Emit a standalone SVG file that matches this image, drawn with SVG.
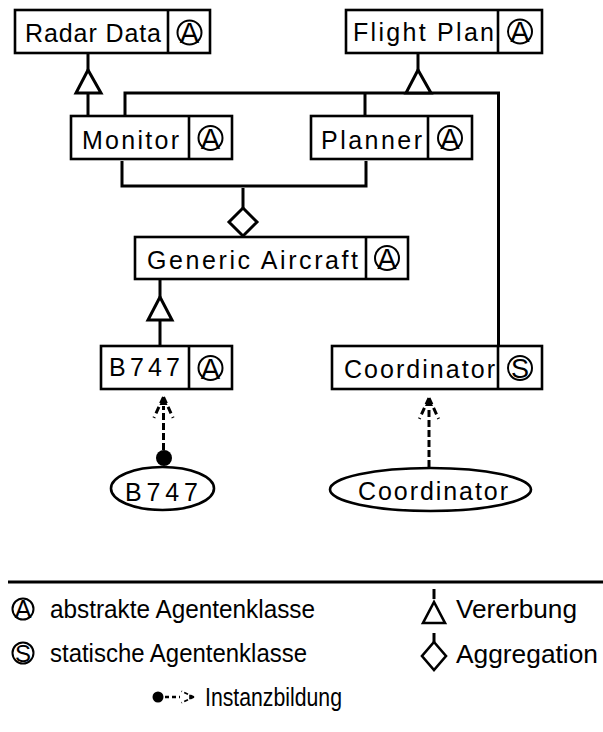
<svg xmlns="http://www.w3.org/2000/svg" width="603" height="732" viewBox="0 0 603 732">
  <style>
    .box { fill: #fff; stroke: #000; stroke-width: 2.6; }
    .div { stroke: #000; stroke-width: 2.6; }
    .sym { fill: none; stroke: #000; stroke-width: 2; }
    .lbl { font-family: "Liberation Sans", Arial, sans-serif; font-size: 25px; fill: #000; }
    .sl { font-family: "Liberation Sans", Arial, sans-serif; font-size: 29px; fill: #000; text-anchor: middle; }
    .leg { font-family: "Liberation Sans", Arial, sans-serif; font-size: 26px; fill: #000; }
    .con { fill: none; stroke: #000; stroke-width: 3; }
    .head { fill: #fff; stroke: #000; stroke-width: 3; stroke-linejoin: miter; }
    .dash { fill: none; stroke: #000; stroke-width: 3; stroke-dasharray: 7 3; }
    .barb { fill: none; stroke: #000; stroke-width: 3; stroke-dasharray: 7 4 7 4 1 30; }
    .tip { fill: #000; }
  </style>

  <rect width="603" height="732" fill="#fff"/>

  <!-- connectors -->
  <g id="connectors">
    <!-- Monitor inherits Radar Data -->
    <path class="con" d="M88,53 V70 M88,93 V116"/>
    <polygon class="head" points="88,70 76,93 101,93"/>
    <!-- Monitor, Planner and Coordinator inherit Flight Plan -->
    <path class="con" d="M125,116 V93 H498.5 V346 M365,93 V116"/>
    <path class="con" d="M418,53 V70"/>
    <polygon class="head" points="418,70 406,93 431,93"/>
    <!-- Monitor and Planner aggregate into Generic Aircraft -->
    <path class="con" d="M122,161 V186 H366 V161 M243,188 V208"/>
    <polygon class="head" points="243,208 257,222 243,236 229,222"/>
    <!-- B747 inherits Generic Aircraft -->
    <path class="con" d="M160,280 V297 M160,320 V346"/>
    <polygon class="head" points="160,297 148,320 172,320"/>
    <!-- instantiation B747 -->
    <circle cx="164" cy="458" r="8" fill="#000"/>
    <line class="dash" x1="163.5" y1="450" x2="163.5" y2="406"/>
    <line class="barb" x1="163.5" y1="397" x2="152.5" y2="421"/>
    <line class="barb" x1="163.5" y1="397" x2="174.5" y2="421"/>
    <polygon class="tip" points="163.5,397 159.5,405 167.5,405"/>
    <!-- instantiation Coordinator -->
    <line class="dash" x1="429" y1="467" x2="429" y2="407"/>
    <line class="barb" x1="429" y1="398" x2="418" y2="422"/>
    <line class="barb" x1="429" y1="398" x2="440" y2="422"/>
    <polygon class="tip" points="429,398 425,406 433,406"/>
  </g>

  <g id="radar-data">
    <rect class="box" x="15" y="10" width="195" height="43"/>
    <line class="div" x1="168" y1="10" x2="168" y2="53"/>
    <text class="lbl" x="25" y="42" textLength="136" lengthAdjust="spacing">Radar Data</text>
    <circle class="sym" cx="189.5" cy="32.5" r="12"/>
    <text class="sl" x="189.5" y="43">A</text>
  </g>

  <g id="flight-plan">
    <rect class="box" x="346" y="10" width="196" height="43"/>
    <line class="div" x1="498" y1="10" x2="498" y2="53"/>
    <text class="lbl" x="353" y="41" textLength="141" lengthAdjust="spacing">Flight Plan</text>
    <circle class="sym" cx="520" cy="31.5" r="12"/>
    <text class="sl" x="520" y="42">A</text>
  </g>

  <g id="monitor">
    <rect class="box" x="71" y="116" width="161" height="43"/>
    <line class="div" x1="189" y1="116" x2="189" y2="159"/>
    <text class="lbl" x="82" y="149" textLength="97" lengthAdjust="spacing">Monitor</text>
    <circle class="sym" cx="210.5" cy="138" r="12"/>
    <text class="sl" x="210.5" y="148.5">A</text>
  </g>

  <g id="planner">
    <rect class="box" x="311" y="116" width="161" height="43"/>
    <line class="div" x1="428" y1="116" x2="428" y2="159"/>
    <text class="lbl" x="321" y="149" textLength="101" lengthAdjust="spacing">Planner</text>
    <circle class="sym" cx="450" cy="138" r="12"/>
    <text class="sl" x="450" y="148.5">A</text>
  </g>

  <g id="generic-aircraft">
    <rect class="box" x="135" y="237" width="273" height="42"/>
    <line class="div" x1="366" y1="237" x2="366" y2="279"/>
    <text class="lbl" x="147" y="269" textLength="211" lengthAdjust="spacing">Generic Aircraft</text>
    <circle class="sym" cx="387" cy="258" r="12"/>
    <text class="sl" x="387" y="268.5">A</text>
  </g>

  <g id="b747">
    <rect class="box" x="101" y="346" width="131" height="43"/>
    <line class="div" x1="189" y1="346" x2="189" y2="389"/>
    <text class="lbl" x="109" y="376" textLength="71" lengthAdjust="spacing">B747</text>
    <circle class="sym" cx="210.5" cy="368" r="12"/>
    <text class="sl" x="210.5" y="378.5">A</text>
  </g>

  <g id="coordinator">
    <rect class="box" x="332" y="346" width="210" height="43"/>
    <line class="div" x1="498" y1="346" x2="498" y2="389"/>
    <text class="lbl" x="344" y="378" textLength="151" lengthAdjust="spacing">Coordinator</text>
    <circle class="sym" cx="520" cy="368" r="12"/>
    <text class="sl" x="520" y="378" style="font-size:27px">S</text>
  </g>

  <g id="b747-instance">
    <ellipse class="box" cx="162.5" cy="488.5" rx="51.5" ry="21.5"/>
    <text class="lbl" x="125" y="501" textLength="73" lengthAdjust="spacing">B747</text>
  </g>

  <g id="coordinator-instance">
    <ellipse class="box" cx="430.5" cy="489.5" rx="100.5" ry="21.5"/>
    <text class="lbl" x="358" y="500" textLength="150" lengthAdjust="spacing">Coordinator</text>
  </g>

  <!-- legend -->
  <g id="legend">
    <line x1="8" y1="582" x2="603" y2="582" stroke="#000" stroke-width="3"/>

    <circle class="sym" cx="23" cy="609" r="10.5"/>
    <text class="sl" x="23" y="618" style="font-size:25px">A</text>
    <text class="leg" x="50" y="618" textLength="265" lengthAdjust="spacingAndGlyphs">abstrakte Agentenklasse</text>

    <circle class="sym" cx="23" cy="653" r="10.5"/>
    <text class="sl" x="23" y="662" style="font-size:24px">S</text>
    <text class="leg" x="50" y="662" textLength="257" lengthAdjust="spacingAndGlyphs">statische Agentenklasse</text>

    <path class="con" d="M434,589 V599"/>
    <polygon class="head" points="434,602 423,623 445,623" style="stroke-width:2.6"/>
    <text class="leg" x="456" y="618" textLength="121" lengthAdjust="spacingAndGlyphs">Vererbung</text>

    <path class="con" d="M434,633 V642"/>
    <polygon class="head" points="434,642 446,656 434,670 422,656" style="stroke-width:2.6"/>
    <text class="leg" x="456" y="663" textLength="142" lengthAdjust="spacingAndGlyphs">Aggregation</text>

    <circle cx="158" cy="697" r="5.5" fill="#000"/>
    <line class="dash" x1="165" y1="697" x2="180" y2="697" style="stroke-dasharray:4 3;stroke-width:2.6"/>
    <g transform="translate(194,697) rotate(90) scale(0.6)">
      <line class="barb" x1="0" y1="0" x2="-11" y2="24"/>
      <line class="barb" x1="0" y1="0" x2="11" y2="24"/>
      <polygon class="tip" points="0,0 -4,8 4,8"/>
    </g>
    <text class="leg" x="205" y="706" textLength="137" lengthAdjust="spacingAndGlyphs">Instanzbildung</text>
  </g>
</svg>
